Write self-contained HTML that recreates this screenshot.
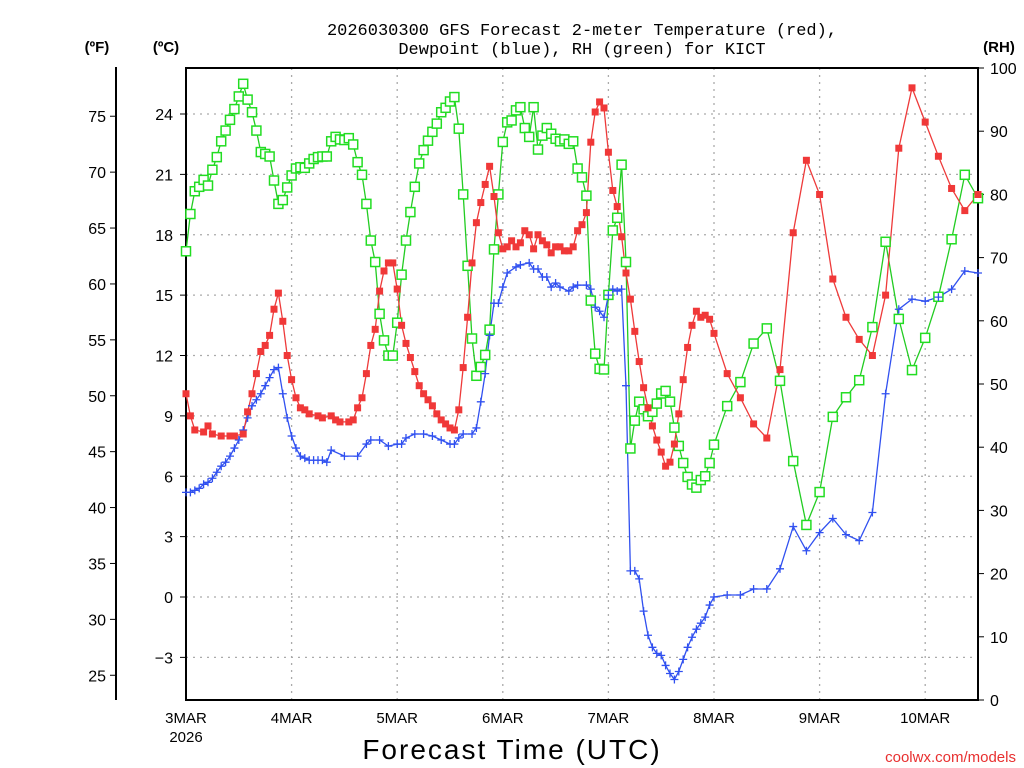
<!DOCTYPE html>
<html><head><meta charset="utf-8">
<style>
html,body{margin:0;padding:0;background:#fff;}
svg{display:block;font-family:"Liberation Sans",sans-serif;}
</style></head>
<body>
<svg id="chart" width="1024" height="768" viewBox="0 0 1024 768" xmlns="http://www.w3.org/2000/svg">
<text x="582" y="35" text-anchor="middle" font-size="17" font-family="Liberation Mono, monospace">2026030300 GFS Forecast 2-meter Temperature (red),</text>
<text x="582" y="54" text-anchor="middle" font-size="17" font-family="Liberation Mono, monospace">Dewpoint (blue), RH (green) for KICT</text>
<text x="97" y="52" text-anchor="middle" font-size="15" font-weight="bold">(ºF)</text>
<text x="166" y="52" text-anchor="middle" font-size="15" font-weight="bold">(ºC)</text>
<text x="999" y="52" text-anchor="middle" font-size="15" font-weight="bold">(RH)</text>
<text x="512" y="759" text-anchor="middle" font-size="28" letter-spacing="2">Forecast Time (UTC)</text>
<text x="1016" y="762" text-anchor="end" font-size="15" fill="#e83030">coolwx.com/models</text>
<g id="grid"></g><g id="axes"></g><g id="series"></g>
</svg>
<script>
// ---- data ----
const dayLabels = ["3MAR","4MAR","5MAR","6MAR","7MAR","8MAR","9MAR","10MAR"];
const celsiusTicks = [-3,0,3,6,9,12,15,18,21,24];
const fahrenheitTicks = [25,30,35,40,45,50,55,60,65,70,75];
const rhTicks = [0,10,20,30,40,50,60,70,80,90,100];

const tempHours = [0,1,2,4,5,6,8,10,11,13,14,15,16,17,18,19,20,21,22,23,24,25,26,27,28,30,31,33,34,35,37,38,39,40,41,42,43,44,45,46,47,48,49,50,51,52,53,54,55,56,57,58,59,60,61,62,63,64,65,66,67,68,69,70,71,72,73,74,75,76,77,78,79,80,81,82,83,84,85,86,87,88,89,90,91,92,93,94,95,96,97,98,99,100,101,102,103,104,105,106,107,108,109,110,111,112,113,114,115,116,117,118,119,120,123,126,129,132,135,138,141,144,147,150,153,156,159,162,165,168,171,174,177,180];
const tempC = [10.1,9.0,8.3,8.2,8.5,8.1,8.0,8.0,8.0,8.1,9.2,10.1,11.1,12.2,12.5,13.0,14.3,15.1,13.7,12.0,10.8,9.9,9.4,9.3,9.1,9.0,8.9,9.0,8.8,8.7,8.7,8.8,9.4,9.9,11.1,12.5,13.3,15.2,16.2,16.6,16.6,15.3,13.5,12.6,11.9,11.2,10.5,10.1,9.8,9.5,9.1,8.8,8.6,8.4,8.3,9.3,11.4,13.9,16.6,18.6,19.6,20.5,21.4,19.9,18.1,17.3,17.4,17.7,17.4,17.6,18.2,18.0,17.3,18.0,17.7,17.5,17.1,17.4,17.4,17.2,17.2,17.4,18.2,18.5,19.1,22.6,24.1,24.6,24.3,22.1,20.2,19.4,17.9,16.1,14.8,13.2,11.7,10.4,9.4,8.5,7.8,7.2,6.5,6.7,7.6,9.1,10.8,12.4,13.5,14.2,13.9,14.0,13.8,13.1,11.1,9.9,8.6,7.9,11.3,18.1,21.7,20.0,15.8,13.9,12.8,12.0,15.0,22.3,25.3,23.6,21.9,20.3,19.2,20.0];

const dewHours = [0,1,2,3,4,5,6,7,8,9,10,11,12,13,14,15,16,17,18,19,20,21,22,23,24,25,26,27,28,29,30,31,32,33,36,39,41,42,44,46,48,49,50,52,54,56,58,60,61,62,63,65,66,67,68,69,70,71,72,73,75,76,78,79,80,81,82,83,84,85,87,88,89,91,92,93,94,95,96,97,98,99,100,101,102,103,104,105,106,107,108,109,110,111,112,113,114,115,116,117,118,119,120,123,126,129,132,135,138,141,144,147,150,153,156,159,162,165,168,171,174,177,180];
const dewC = [5.2,5.2,5.3,5.4,5.6,5.7,5.9,6.2,6.5,6.7,7.0,7.4,7.8,8.3,8.9,9.5,9.8,10.1,10.5,10.9,11.3,11.4,10.1,8.9,8.0,7.4,7.0,6.9,6.8,6.8,6.8,6.8,6.7,7.3,7.0,7.0,7.6,7.8,7.8,7.5,7.6,7.6,7.9,8.1,8.1,8.0,7.8,7.6,7.6,7.9,8.1,8.1,8.4,9.7,11.1,13.0,14.6,14.6,15.4,16.1,16.4,16.5,16.6,16.3,16.3,15.9,15.9,15.4,15.6,15.4,15.2,15.4,15.5,15.5,15.3,14.4,14.2,13.9,15.0,15.3,15.2,15.3,10.5,1.3,1.3,0.9,-0.7,-1.9,-2.5,-2.8,-2.9,-3.4,-3.8,-4.1,-3.7,-3.1,-2.5,-2.0,-1.6,-1.3,-1.0,-0.4,0.0,0.1,0.1,0.4,0.4,1.4,3.5,2.3,3.2,3.9,3.1,2.8,4.2,10.1,14.3,14.8,14.7,14.9,15.3,16.2,16.1];

const rhHours = [0,1,2,3,4,5,6,7,8,9,10,11,12,13,14,15,16,17,18,19,20,21,22,23,24,25,26,27,28,29,30,31,32,33,34,35,36,37,38,39,40,41,42,43,44,45,46,47,48,49,50,51,52,53,54,55,56,57,58,59,60,61,62,63,64,65,66,67,68,69,70,71,72,73,74,75,76,77,78,79,80,81,82,83,84,85,86,87,88,89,90,91,92,93,94,95,96,97,98,99,100,101,102,103,104,105,106,107,108,109,110,111,112,113,114,115,116,117,118,119,120,123,126,129,132,135,138,141,144,147,150,153,156,159,162,165,168,171,174,177,180];
const rhPct = [71.0,76.9,80.5,81.2,82.3,81.4,83.9,85.9,88.4,90.1,91.8,93.5,95.5,97.5,95.0,93.0,90.1,86.7,86.4,86.0,82.2,78.5,79.1,81.1,83.0,84.1,84.3,84.2,84.9,85.6,85.9,86.0,86.0,88.4,89.1,88.7,88.6,88.9,87.9,85.1,83.1,78.5,72.7,69.3,61.1,56.9,54.5,54.5,59.7,67.3,72.7,77.2,81.2,84.9,87.0,88.5,89.9,91.2,93.0,93.7,94.7,95.4,90.4,80.0,68.7,57.2,51.3,52.7,54.6,58.6,71.3,80.0,88.3,91.4,91.7,93.3,93.8,90.5,89.1,93.8,87.1,89.3,90.5,89.6,88.8,88.4,88.7,88.0,88.4,84.1,82.7,79.8,63.2,54.8,52.4,52.3,64.1,74.3,76.3,84.7,69.3,39.8,44.2,47.2,46.0,44.9,45.6,46.9,48.5,48.9,47.2,43.1,40.2,37.5,35.3,34.1,33.6,34.8,35.4,37.5,40.4,46.5,50.3,56.4,58.8,50.5,37.8,27.7,32.9,44.8,47.9,50.6,59.0,72.5,60.3,52.2,57.3,63.8,72.9,83.1,79.4];

// ---- scales ----
const X0=186, X1=978, Y0=68, Y1=700;
const xH = h => X0 + (X1-X0)*h/180;
const yC = c => 597 - c*20.125;
const yF = f => yC((f-32)/1.8);
const yR = r => Y1 - (Y1-Y0)*r/100;
const NS="http://www.w3.org/2000/svg";
function mk(tag, attrs, parent){const e=document.createElementNS(NS,tag);for(const k in attrs)e.setAttribute(k,attrs[k]);parent.appendChild(e);return e;}
const grid=document.getElementById('grid'), axes=document.getElementById('axes'), series=document.getElementById('series');

celsiusTicks.forEach(c=>{
  const l=mk('line',{x1:X0,x2:X1,y1:yC(c),y2:yC(c),stroke:'#aaa','stroke-width':1.3,'stroke-dasharray':'2,5'},grid);
  
  
  const t=mk('line',{x1:X0-6,x2:X0,y1:yC(c),y2:yC(c),stroke:'#000','stroke-width':1},axes);
  
  
  const tx=mk('text',{x:173,y:yC(c)+6,'text-anchor':'end','font-size':16},axes);
  tx.textContent = c<0 ? '\u2212'+Math.abs(c) : String(c);
  
  
});
dayLabels.forEach((d,i)=>{
  const x=xH(i*24);
  if(i>0){
    const l=mk('line',{x1:x,x2:x,y1:Y0,y2:Y1,stroke:'#aaa','stroke-width':1.3,'stroke-dasharray':'2,5'},grid);
    
    
  }
  const tx=mk('text',{x:x,y:723,'text-anchor':'middle','font-size':15},axes);
  tx.textContent=d;
  
  
});
const yr=mk('text',{x:X0,y:742,'text-anchor':'middle','font-size':15},axes);
yr.textContent='2026';



fahrenheitTicks.forEach(f=>{
  const t=mk('line',{x1:110,x2:116,y1:yF(f),y2:yF(f),stroke:'#000','stroke-width':1},axes);
  
  
  const tx=mk('text',{x:106,y:yF(f)+6,'text-anchor':'end','font-size':16},axes);
  tx.textContent=String(f);
  
  
});
rhTicks.forEach(r=>{
  const t=mk('line',{x1:X1,x2:X1+6,y1:yR(r),y2:yR(r),stroke:'#000','stroke-width':1},axes);
  
  
  const tx=mk('text',{x:990,y:yR(r)+6,'text-anchor':'start','font-size':16},axes);
  tx.textContent=String(r);
  
  
});
const fax=mk('line',{x1:116,x2:116,y1:67,y2:Y1,stroke:'#000','stroke-width':2},axes);


const frame=mk('rect',{x:X0,y:Y0,width:X1-X0,height:Y1-Y0,fill:'none',stroke:'#000','stroke-width':2},axes);



function line(hours, vals, yfn, color, name){
  const pts=hours.map((h,i)=>xH(h).toFixed(1)+','+yfn(vals[i]).toFixed(1)).join(' ');
  const p=mk('polyline',{points:pts,fill:'none',stroke:color,'stroke-width':1.3},series);
  
  
}
line(rhHours,rhPct,yR,'#22cc22','rh-line');
line(dewHours,dewC,yC,'#3050f0','dewpoint-line');
line(tempHours,tempC,yC,'#ee3a3a','temperature-line');

rhHours.forEach((h,i)=>{
  const x=xH(h), y=yR(rhPct[i]);
  const m=mk('rect',{x:x-4.5,y:y-4.5,width:9,height:9,fill:'#fff',stroke:'#22dd22','stroke-width':1.5},series);
  
  
});
dewHours.forEach((h,i)=>{
  const x=xH(h), y=yC(dewC[i]);
  const m=mk('path',{d:`M${x-4} ${y}H${x+4}M${x} ${y-4}V${y+4}`,stroke:'#3050f0','stroke-width':1.3,fill:'none'},series);
  
  
});
tempHours.forEach((h,i)=>{
  const x=xH(h), y=yC(tempC[i]);
  const m=mk('rect',{x:x-3.5,y:y-3.5,width:7,height:7,fill:'#f03838'},series);
  
  
});
</script>
</body></html>
